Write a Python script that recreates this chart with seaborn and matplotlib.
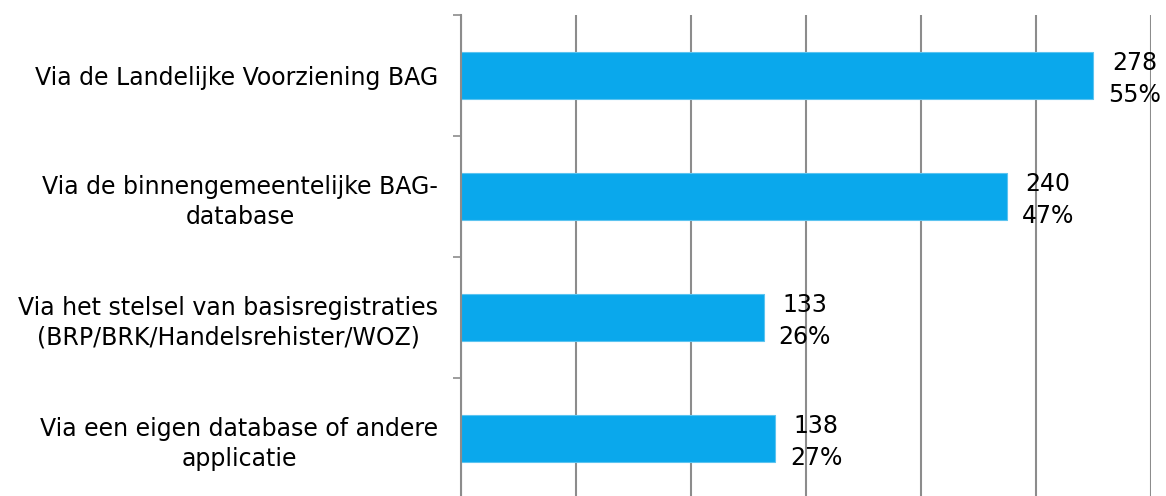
import numpy as np
import pandas as pd
import matplotlib
matplotlib.use('Agg')
import matplotlib.pyplot as plt
import seaborn as sns

categories = [
    'Via de Landelijke Voorziening BAG',
    'Via de binnengemeentelijke BAG-\ndatabase',
    'Via het stelsel van basisregistraties\n(BRP/BRK/Handelsrehister/WOZ)',
    'Via een eigen database of andere\napplicatie',
]
counts = [278, 240, 133, 138]
percentages = [55, 47, 26, 27]

df = pd.DataFrame({'categorie': categories, 'aantal': counts, 'pct': percentages})

sns.set_style('white')
plt.rcParams['font.family'] = ['DejaVu Sans']

fig = plt.figure(figsize=(11.66, 4.96), dpi=100)
ax = fig.add_axes([461 / 1166, -3 / 496, 690 / 1166, 484 / 496])

sns.barplot(data=df, x='aantal', y='categorie', orient='h', color='#0aa8ec',
            saturation=1, width=0.39, edgecolor='#5cc4f0', linewidth=0.8, ax=ax)

xmax = 303.3
ax.set_xlim(0, xmax)
ax.set_ylim(len(categories) - 0.5, -0.5)
ax.set_xticks(np.linspace(0, xmax, 7))
ax.set_xticklabels([])
ax.tick_params(axis='x', length=0)
ax.grid(axis='x', color='#8c8c8c', linewidth=1.5)
ax.set_axisbelow(True)

# kategorie-grenzen als kleine striche links
ax.set_yticks(np.arange(len(categories)) - 0.5, minor=True)
ax.tick_params(axis='y', which='minor', left=True, length=6, width=1.2,
               color='#8c8c8c', direction='out')
ax.tick_params(axis='y', which='major', left=False, length=0, pad=16.5,
               labelsize=17, labelcolor='black')
for lab in ax.get_yticklabels():
    lab.set_multialignment('center')
    lab.set_linespacing(1.3)

for s in ['top', 'right', 'bottom']:
    ax.spines[s].set_visible(False)
ax.spines['left'].set_color('#8c8c8c')
ax.spines['left'].set_linewidth(1.5)

ax.set_xlabel('')
ax.set_ylabel('')

for i, (c, p) in enumerate(zip(counts, percentages)):
    ax.annotate(f'{c}\n{p}%', xy=(c, i), xytext=(41 * 0.72, -2.5), textcoords='offset points',
                ha='center', va='center', fontsize=17, linespacing=1.4, color='black')

fig.savefig('out.png', dpi=100)
